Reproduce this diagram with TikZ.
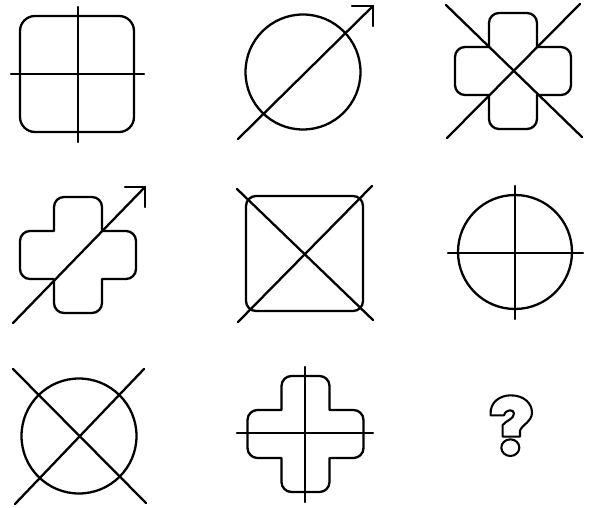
\documentclass[tikz,border=0pt]{standalone}
\begin{document}
\begin{tikzpicture}[x=1pt,y=-1pt,line cap=round,line join=round,
  fig/.style={draw=black,line width=2.3pt},
  bar/.style={draw=black,line width=2.3pt}]
\useasboundingbox[fill=white] (0,0) rectangle (590,508);
\newcommand\crossfig[1]{%
  \draw[fig,shift={#1}] (-24,-24) -- (-24,-48) arc(180:270:10) -- (14,-58) arc(270:360:10)
    -- (24,-24) -- (48,-24) arc(270:360:10) -- (58,14) arc(0:90:10)
    -- (24,24) -- (24,48) arc(0:90:10) -- (-14,58) arc(90:180:10)
    -- (-24,24) -- (-48,24) arc(90:180:10) -- (-58,-14) arc(180:270:10) -- cycle;}
% cell 1: rounded square with plus
\draw[fig,rounded corners=15] (20,16) rectangle (134,132);
\coordinate (a1t) at (78,7); \coordinate (a1b) at (78,142);
\coordinate (a1l) at (11,74); \coordinate (a1r) at (144,74);
\draw[bar] (a1t) -- (a1b);
\draw[bar] (a1l) -- (a1r);
% cell 2: circle with arrow
\draw[fig] (303,72) circle (57.5);
\coordinate (a2s) at (238,139); \coordinate (a2e) at (373,6);
\draw[bar] (a2s) -- (a2e);
\draw[bar] (352,6) -- (a2e) -- (373,26);
% cell 3: cross with X
\crossfig{(513,71)}
\coordinate (a3a) at (446,5); \coordinate (a3b) at (582,137);
\coordinate (a3c) at (580,4); \coordinate (a3d) at (447,138);
\draw[bar] (a3a) -- (a3b);
\draw[bar] (a3c) -- (a3d);
% cell 4: cross with arrow
\crossfig{(78,255)}
\coordinate (a4s) at (13,323); \coordinate (a4e) at (145,187);
\draw[bar] (a4s) -- (a4e);
\draw[bar] (125,187) -- (a4e) -- (145,207);
% cell 5: rounded square with X
\draw[fig,rounded corners=10] (246,196) rectangle (363,311);
\coordinate (a5a) at (237,189); \coordinate (a5b) at (373,320);
\coordinate (a5c) at (372,186); \coordinate (a5d) at (238,322);
\draw[bar] (a5a) -- (a5b);
\draw[bar] (a5c) -- (a5d);
% cell 6: circle with plus
\draw[fig] (515,252) circle (57);
\coordinate (a6t) at (515,186); \coordinate (a6b) at (515,319);
\coordinate (a6l) at (448,253); \coordinate (a6r) at (583,253);
\draw[bar] (a6t) -- (a6b);
\draw[bar] (a6l) -- (a6r);
% cell 7: circle with X
\draw[fig] (79,436) circle (57.5);
\coordinate (a7a) at (13,369); \coordinate (a7b) at (146,503);
\coordinate (a7c) at (144,369); \coordinate (a7d) at (15,504);
\draw[bar] (a7a) -- (a7b);
\draw[bar] (a7c) -- (a7d);
% cell 8: cross with plus
\crossfig{(305.5,434)}
\coordinate (a8t) at (305,367); \coordinate (a8b) at (305,502);
\coordinate (a8l) at (237,433); \coordinate (a8r) at (373,433);
\draw[bar] (a8t) -- (a8b);
\draw[bar] (a8l) -- (a8r);
% cell 9: question mark outline
\begin{scope}[shift={(440,370)},x=0.3333pt,y=-0.3333pt]
\draw[fig,line width=2.1pt] (152,136) .. controls (148,95) and (182,76) .. (212,76)
  .. controls (252,76) and (276,100) .. (276,128)
  .. controls (276,155) and (245,165) .. (240,182) -- (240,200) -- (188,200) -- (188,165)
  .. controls (200,150) and (222,148) .. (222,130)
  .. controls (222,118) and (198,116) .. (192,136) -- cycle;
\draw[fig,line width=2.1pt] (211,233) ellipse (27 and 25);
\end{scope}
\end{tikzpicture}
\end{document}
